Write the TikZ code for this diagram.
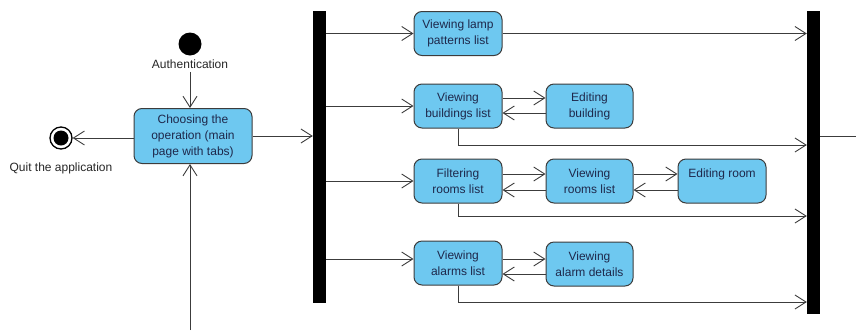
\documentclass[tikz,border=0pt]{standalone}
\usepackage{fontspec}
\setmainfont{Liberation Sans}
\usetikzlibrary{arrows.meta}
\definecolor{actfill}{RGB}{110,200,240}
\definecolor{acttext}{RGB}{30,40,75}
\definecolor{lncol}{RGB}{60,60,60}

\begin{document}
\begin{tikzpicture}[x=1pt, y=-1pt,
  act/.style={draw=lncol, fill=actfill, rounded corners=8pt, line width=1pt,
    align=center, text=acttext, inner sep=2pt, minimum width=88pt,
    minimum height=44pt, font=\fontsize{12}{16}\selectfont},
  bar/.style={fill=black, draw=none, minimum width=13pt, inner sep=0pt},
  lab/.style={font=\fontsize{12}{16}\selectfont, text=black!85},
  flow/.style={draw=lncol, line width=0.9pt,
    -{Straight Barb[length=11pt, width=14pt, line width=0.9pt]}}]
\useasboundingbox (0,0) rectangle (856,330);

% start, choice and quit
\node[circle, fill=black, minimum size=23pt, inner sep=0pt] (init) at (190,44) {};
\node[lab] (auth) at (190,64) {Authentication};
\node[act, minimum width=118pt, minimum height=55pt] (choose) at (193,136)
  {Choosing the\\operation (main\\page with tabs)};
\node[circle, draw=black, line width=1.3pt, minimum size=22pt, inner sep=0pt] (final) at (61,138) {};
\fill[black] (final) circle (7.5pt);
\node[lab] (quit) at (61,168) {Quit the application};
\coordinate (back) at (190,330);

\draw[flow] (auth.south) -- (auth.south |- choose.north);
\draw[flow] (choose.west |- final) -- (final);
\draw[flow] (back) -- (back |- choose.south);

% fork and join bars
\node[bar, minimum height=292pt] (fork) at (319.5,157) {};
\node[bar, minimum height=303pt] (join) at (813.5,162.5) {};
\coordinate (out) at (856,136);
\draw[flow] (choose.east) -- (choose.east -| fork.west);
\draw[lncol, line width=0.9pt] (join.east |- out) -- (out);

% activities
\node[act] (lamp) at (458,33.5) {Viewing lamp\\patterns list};
\node[act] (bldg) at (458,106) {Viewing\\buildings list};
\node[act] (filt) at (458,181) {Filtering\\rooms list};
\node[act] (alrm) at (458,263) {Viewing\\alarms list};
\node[act, minimum width=87pt] (edbld) at (589.5,106) {Editing\\building};
\node[act, minimum width=87pt] (vroom) at (589.5,181) {Viewing\\rooms list};
\node[act, minimum width=87pt] (aldet) at (589.5,264) {Viewing\\alarm details};
\node[act] (edroom) at (722,181) {Editing room\\\mbox{}};

% from the fork
\draw[flow] (fork.east |- lamp) -- (lamp);
\draw[flow] (fork.east |- bldg) -- (bldg);
\draw[flow] (fork.east |- filt) -- (filt);
\draw[flow] (fork.east |- 0,259) -- (alrm.west |- 0,259);

% back and forth
\draw[flow] (bldg.east |- 0,98) -- (edbld.west |- 0,98);
\draw[flow] (edbld.west |- 0,113) -- (bldg.east |- 0,113);
\draw[flow] (filt.east |- 0,174) -- (vroom.west |- 0,174);
\draw[flow] (vroom.west |- 0,190) -- (filt.east |- 0,190);
\draw[flow] (vroom.east |- 0,174) -- (edroom.west |- 0,174);
\draw[flow] (edroom.west |- 0,190) -- (vroom.east |- 0,190);
\draw[flow] (alrm.east |- 0,259) -- (aldet.west |- 0,259);
\draw[flow] (aldet.west |- 0,274) -- (alrm.east |- 0,274);

% to the join
\draw[flow] (lamp.east) -- (lamp.east -| join.west);
\draw[flow] (bldg.south) |- (join.west |- 0,145);
\draw[flow] (filt.south) |- (join.west |- 0,216);
\draw[flow] (alrm.south) |- (join.west |- 0,302);
\end{tikzpicture}
\end{document}
